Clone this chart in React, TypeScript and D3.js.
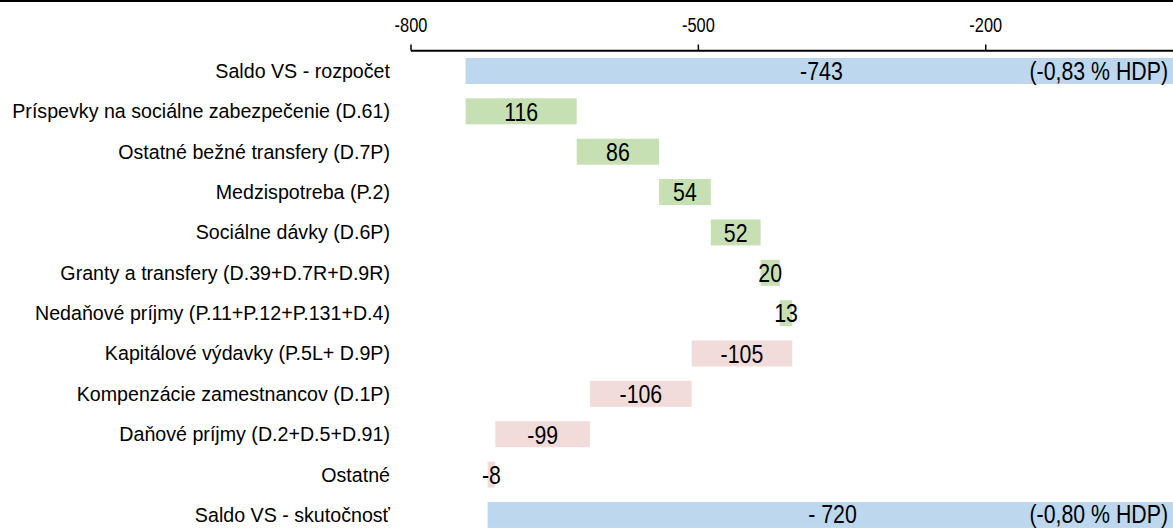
import React from "react";
import * as d3 from "d3";

const categories = [
  "Saldo VS - rozpočet",
  "Príspevky na sociálne zabezpečenie (D.61)",
  "Ostatné bežné transfery (D.7P)",
  "Medzispotreba (P.2)",
  "Sociálne dávky (D.6P)",
  "Granty a transfery (D.39+D.7R+D.9R)",
  "Nedaňové príjmy (P.11+P.12+P.131+D.4)",
  "Kapitálové výdavky (P.5L+ D.9P)",
  "Kompenzácie zamestnancov (D.1P)",
  "Daňové príjmy (D.2+D.5+D.91)",
  "Ostatné",
  "Saldo VS - skutočnosť",
];
const values = [-743, 116, 86, 54, 52, 20, 13, -105, -106, -99, -8, -720];
const kinds = ["total", "delta", "delta", "delta", "delta", "delta", "delta", "delta", "delta", "delta", "delta", "total"];
const valueLabels = ["-743", "116", "86", "54", "52", "20", "13", "-105", "-106", "-99", "-8", "- 720"];
const hdpNotes = ["(-0,83 % HDP)", "", "", "", "", "", "", "", "", "", "", "(-0,80 % HDP)"];
const tickValues = [-800, -500, -200];

const W = 1173;
const H = 528;
const colors: Record<string, string> = {
  total: "#BDD7EE",
  up: "#C6E0B4",
  down: "#F2DCDB",
};

export default function App() {
  const x = d3.scaleLinear().domain([-800, 0]).range([411, 1177.3]);
  const y = d3
    .scaleBand<string>()
    .domain(categories)
    .range([50.8, 50.8 + 12 * 40.36])
    .paddingInner(0.356)
    .paddingOuter(0.178);

  let running = 0;
  const bars = categories.map((c, i) => {
    const v = values[i];
    let x0: number, x1: number, color: string;
    if (kinds[i] === "total") {
      x0 = v;
      x1 = 0;
      running = v;
      color = colors.total;
    } else {
      x0 = running;
      x1 = running + v;
      running = x1;
      color = v >= 0 ? colors.up : colors.down;
    }
    return { c, i, lo: Math.min(x0, x1), hi: Math.max(x0, x1), color };
  });

  const font = "'Liberation Sans', Arial, sans-serif";
  const bw = y.bandwidth();

  return (
    <svg
      width={W}
      height={H}
      style={{ position: "absolute", left: 0, top: 0 }}
      fontFamily={font}
    >
      <rect x={0} y={0} width={W} height={H} fill="#fff" />
      <line x1={0} x2={W} y1={1} y2={1} stroke="#000" strokeWidth={2} />
      {/* axis */}
      <line x1={x(-800)} x2={W} y1={50.8} y2={50.8} stroke="#000" strokeWidth={2} />
      {tickValues.map((t) => (
        <g key={t}>
          <line x1={x(t)} x2={x(t)} y1={44.5} y2={50.8} stroke="#000" strokeWidth={1.5} />
          <text
            transform={`translate(${x(t)},32.3) scale(0.84,1)`}
            textAnchor="middle"
            fontSize={19.5}
            fill="#000"
          >
            {t}
          </text>
        </g>
      ))}
      {bars.map((b) => {
        const yc = (y(b.c) as number) + bw / 2;
        const isLast = b.i === categories.length - 1;
        const vy = yc + 0.358 * 26 - (isLast ? 1 : 0);
        return (
          <g key={b.c}>
            <rect
              x={x(b.lo)}
              y={y(b.c) as number}
              width={x(b.hi) - x(b.lo)}
              height={bw}
              fill={b.color}
            />
            <text
              transform={`translate(390,${yc + 0.358 * 19.5}) scale(1.008,1)`}
              textAnchor="end"
              fontSize={19.5}
              fill="#000"
            >
              {b.c}
            </text>
            <text
              transform={`translate(${(x(b.lo) + x(b.hi)) / 2},${vy}) scale(0.82,1)`}
              textAnchor="middle"
              fontSize={26}
              fill="#000"
            >
              {valueLabels[b.i]}
            </text>
            {hdpNotes[b.i] && (
              <text
                transform={`translate(1168,${vy}) scale(0.82,1)`}
                textAnchor="end"
                fontSize={26}
                fill="#000"
              >
                {hdpNotes[b.i]}
              </text>
            )}
          </g>
        );
      })}
    </svg>
  );
}
